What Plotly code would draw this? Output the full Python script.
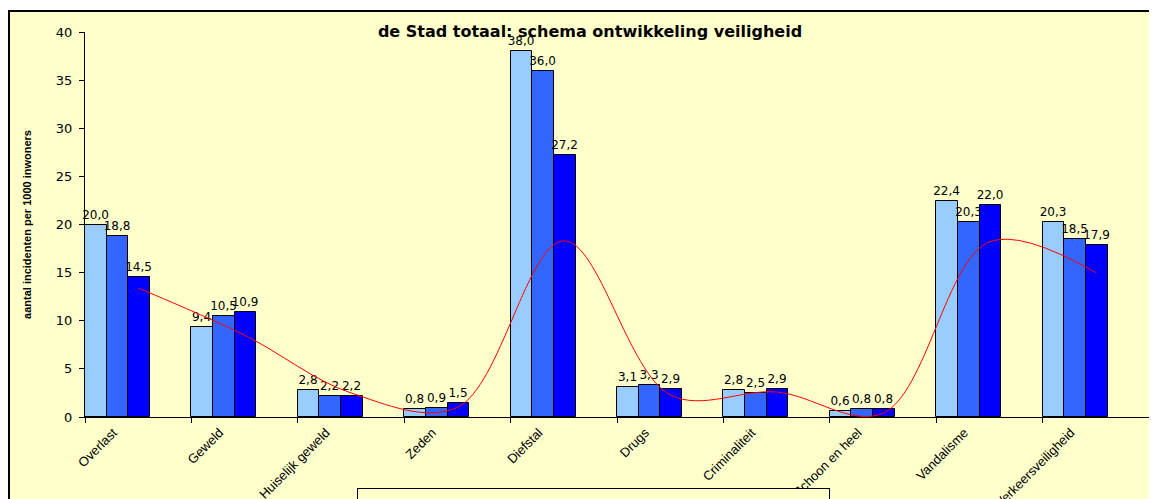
import plotly.graph_objects as go

categories = ["Overlast", "Geweld", "Huiselijk geweld", "Zeden", "Diefstal", "Drugs",
              "Criminaliteit", "Schoon en heel", "Vandalisme", "Verkeersveiligheid"]
v2004 = [20.0, 9.4, 2.8, 0.8, 38.0, 3.1, 2.8, 0.6, 22.4, 20.3]
v2005 = [18.8, 10.5, 2.2, 0.9, 36.0, 3.3, 2.5, 0.8, 20.3, 18.5]
v2006 = [14.5, 10.9, 2.2, 1.5, 27.2, 2.9, 2.9, 0.8, 22.0, 17.9]
totaal_emmen = [13.4, 8.5, 2.5, 1.0, 18.3, 2.3, 2.6, 0.4, 18.2, 15.0]
years = ["2004", "2005", "2006"]
colors = ["#99CCFF", "#3366FF", "#0000FF"]

# page body has an 8px margin: figure coordinates = screen coordinates - 8
W, H = 1149, 491
L, R, T, B = 77, 8, 24, 82
pw = W - L - R
ph = H - T - B

def fmt(v):
    return f"{v:.1f}".replace(".", ",")

fig = go.Figure()
bw = 0.2036
for k, (name, vals, col) in enumerate(zip(years, [v2004, v2005, v2006], colors)):
    fig.add_trace(go.Bar(
        x=categories, y=vals, name=name,
        marker=dict(color=col, line=dict(color="black", width=1)),
        width=bw, offset=-0.5 + k * bw,
        text=[fmt(v) for v in vals], textposition="outside",
        textfont=dict(family="DejaVu Sans", size=12, color="black"),
        constraintext="none", cliponaxis=False,
    ))

fig.add_trace(go.Scatter(
    x=categories, y=totaal_emmen, name="Totaal gem Emmen", mode="lines",
    line=dict(color="#FF0000", width=1, shape="spline", smoothing=1),
))

fig.add_shape(type="rect", xref="paper", yref="paper",
              x0=(1 - L) / pw, x1=(W + 10 - L) / pw,
              y0=(H - B - (H + 20)) / ph, y1=(H - B - 3) / ph,
              fillcolor="#FFFFCC", line=dict(color="black", width=2), layer="below")

fig.update_layout(
    width=W, height=H,
    margin=dict(l=L, r=R, t=T, b=B, autoexpand=False),
    paper_bgcolor="white", plot_bgcolor="rgba(0,0,0,0)",
    barmode="overlay", bargap=0,
    title=dict(text="<b>de Stad totaal: schema ontwikkeling veiligheid</b>",
               font=dict(family="DejaVu Sans", size=16, color="black"),
               x=(582 - L) / pw, xref="paper", xanchor="center",
               y=1 - 23 / H, yref="container", yanchor="middle", automargin=False),
    font=dict(family="Liberation Sans", color="black"),
    showlegend=True,
    legend=dict(orientation="h", x=(349 - L) / pw, y=(H - B - 480) / ph,
                xanchor="left", yanchor="top", itemwidth=30,
                bordercolor="black", borderwidth=1, bgcolor="#FFFFCC",
                font=dict(family="Liberation Sans", size=19, color="black"),
                traceorder="normal"),
    xaxis=dict(type="category", range=[-0.5, 9.5], tickangle=-45,
               tickson="boundaries", ticks="outside", ticklen=5, tickcolor="black",
               showline=True, linecolor="black", linewidth=1, showgrid=False,
               ticklabelshift=-25, ticklabelstandoff=2, automargin=False,
               tickfont=dict(family="Liberation Sans", size=13, color="black")),
    yaxis=dict(range=[0, 40], dtick=5, ticks="outside", ticklen=5, tickcolor="black",
               showline=True, linecolor="black", linewidth=1, showgrid=False,
               zeroline=False, automargin=False, ticklabelstandoff=4,
               tickfont=dict(family="DejaVu Sans", size=13, color="black"),
               title=dict(text="<b>aantal incidenten per 1000 inwoners</b>",
                          font=dict(family="Liberation Sans", size=11, color="black"),
                          standoff=22)),
)

fig.write_html("out.html")
